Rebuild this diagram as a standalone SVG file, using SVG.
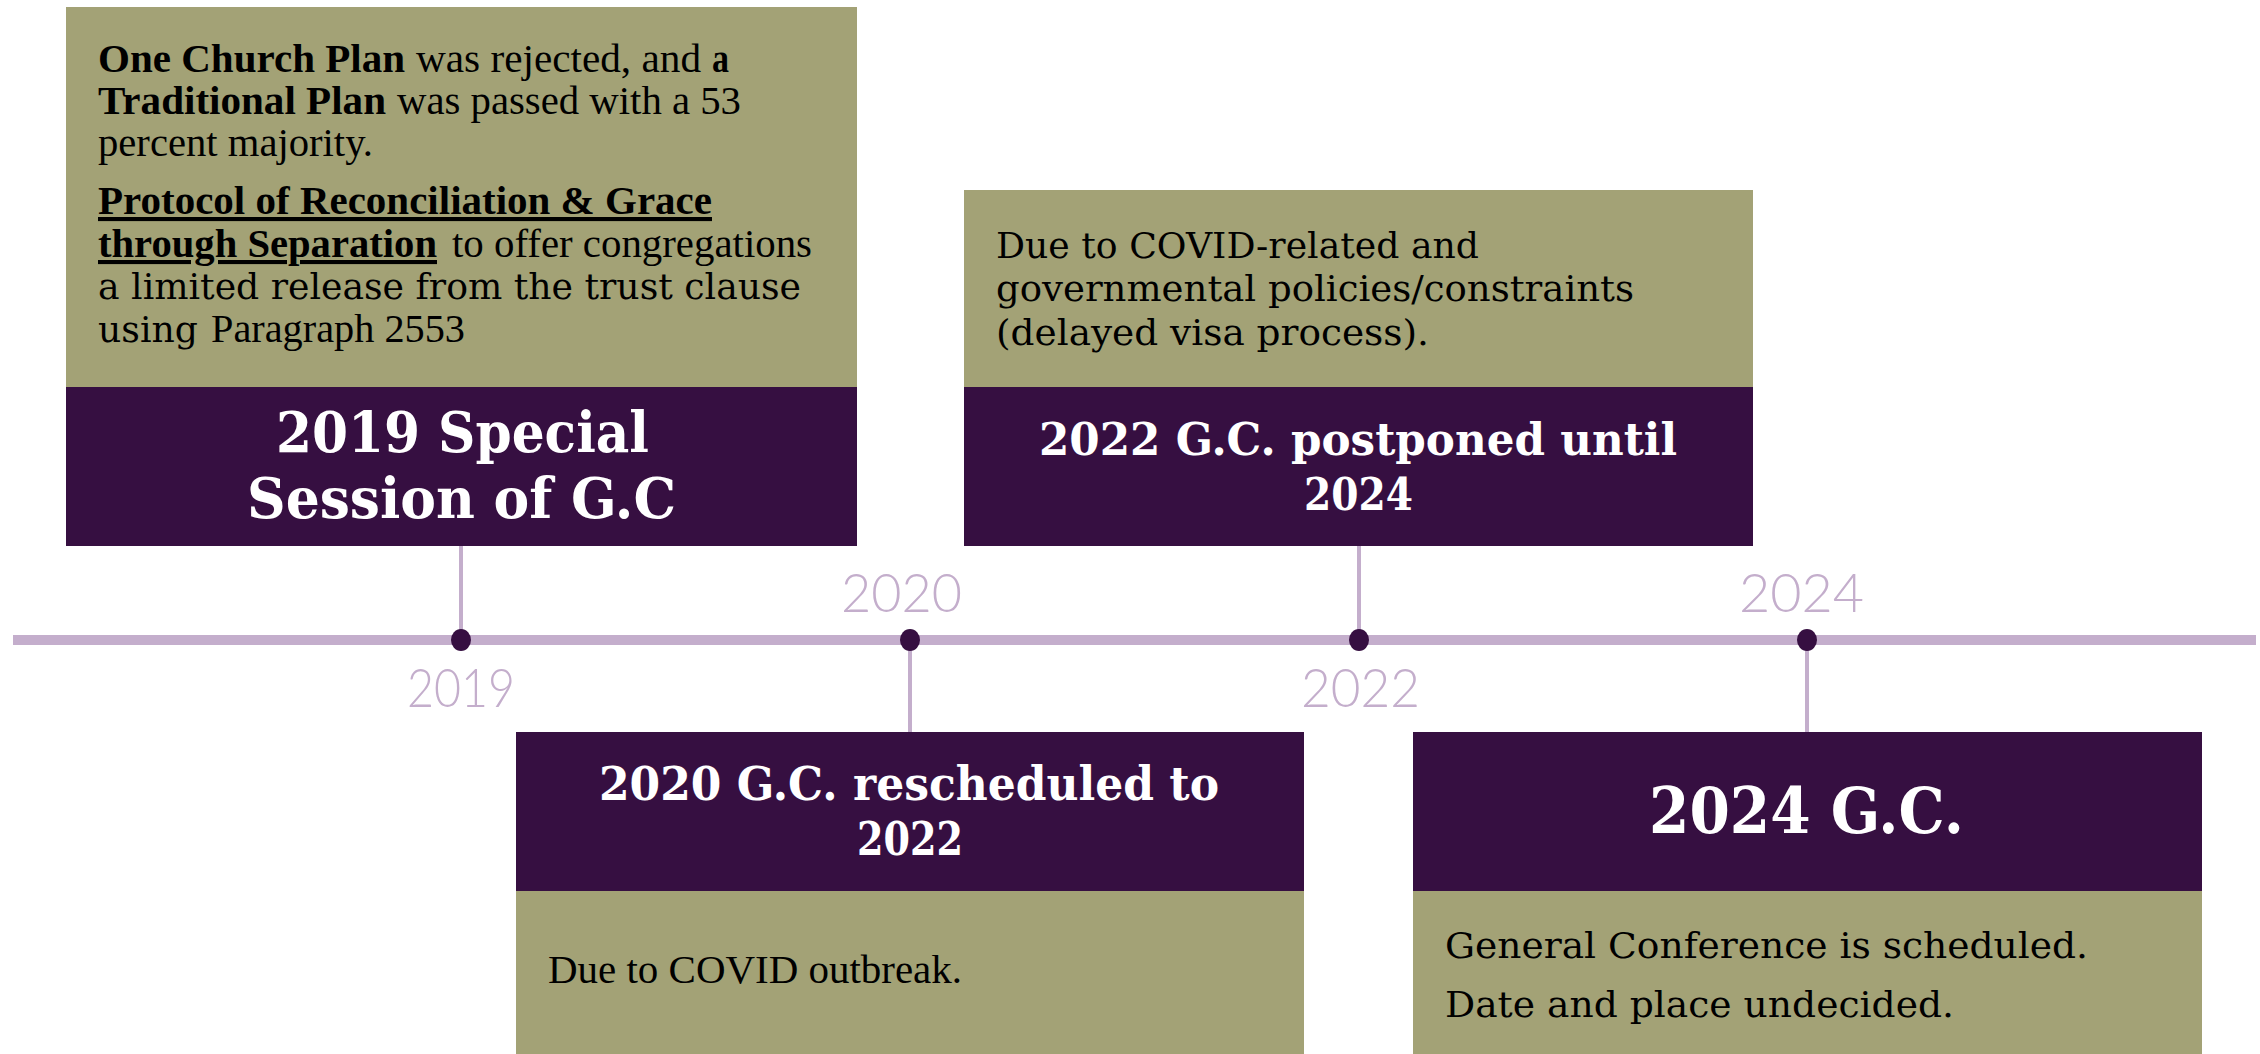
<svg xmlns="http://www.w3.org/2000/svg" width="2260" height="1054" viewBox="0 0 2260 1054">
<style>
.olive{fill:#A3A276}
.purple{fill:#360F41}
.title{font-family:"DejaVu Serif",serif;font-weight:bold;fill:#FFFFFF}
.times{font-family:"Liberation Serif",serif;font-size:41px;fill:#000}
.slab{font-family:"DejaVu Serif",serif;font-size:35px;fill:#000}
.b{font-weight:bold}
.u{text-decoration:underline}
.year{font-family:Lato,"Open Sans",sans-serif;font-weight:300;font-size:54px;fill:#C4AECC}
.stem{stroke:#C4AECC;stroke-width:4;fill:none}
.axis{stroke:#C4AECC;stroke-width:10;fill:none}
.dot{fill:#360F41}
</style>
<rect width="2260" height="1054" fill="#FFFFFF"/>
<g id="connectors">
<line class="axis" x1="13" y1="640" x2="2256" y2="640"/>
<line class="stem" x1="461" y1="546" x2="461" y2="640"/>
<line class="stem" x1="910" y1="640" x2="910" y2="733"/>
<line class="stem" x1="1359" y1="546" x2="1359" y2="640"/>
<line class="stem" x1="1807" y1="640" x2="1807" y2="733"/>
<ellipse class="dot" cx="461" cy="640" rx="10" ry="11"/>
<ellipse class="dot" cx="910" cy="640" rx="10" ry="11"/>
<ellipse class="dot" cx="1359" cy="640" rx="10" ry="11"/>
<ellipse class="dot" cx="1807" cy="640" rx="10" ry="11"/>
</g>
<g id="years">
<text class="year" x="407" y="707" textLength="108" lengthAdjust="spacingAndGlyphs">2019</text>
<text class="year" x="841" y="612" textLength="121" lengthAdjust="spacingAndGlyphs">2020</text>
<text class="year" x="1301" y="707" textLength="119" lengthAdjust="spacingAndGlyphs">2022</text>
<text class="year" x="1739" y="612" textLength="125" lengthAdjust="spacingAndGlyphs">2024</text>
</g>
<g id="node-2019">
<rect class="olive" x="66" y="7" width="791" height="380"/>
<rect class="purple" x="66" y="387" width="791" height="159"/>
<text class="times b" x="98" y="72" textLength="307" lengthAdjust="spacingAndGlyphs">One Church Plan</text>
<text class="times" x="416" y="72" textLength="285" lengthAdjust="spacingAndGlyphs">was rejected, and</text>
<text class="times b" x="712" y="72" textLength="17" lengthAdjust="spacingAndGlyphs">a</text>
<text class="times b" x="98" y="114" textLength="288" lengthAdjust="spacingAndGlyphs">Traditional  Plan</text>
<text class="times" x="397" y="114" textLength="344" lengthAdjust="spacingAndGlyphs">was passed with a 53</text>
<text class="times" x="98" y="156" textLength="275" lengthAdjust="spacingAndGlyphs">percent majority.</text>
<text class="times b u" x="98" y="214" textLength="614" lengthAdjust="spacingAndGlyphs">Protocol of Reconciliation &amp; Grace</text>
<text class="times b u" x="98" y="257" textLength="339" lengthAdjust="spacingAndGlyphs">through Separation</text>
<text class="times" x="452" y="257" textLength="360" lengthAdjust="spacingAndGlyphs">to offer congregations</text>
<text class="slab" x="98" y="299" textLength="703" lengthAdjust="spacingAndGlyphs">a limited release from the trust clause</text>
<text class="slab" x="98" y="342" textLength="100" lengthAdjust="spacingAndGlyphs">using</text>
<text class="times" x="211" y="342" textLength="254" lengthAdjust="spacingAndGlyphs">Paragraph 2553</text>
<text class="title" x="276" y="452" font-size="56" textLength="373" lengthAdjust="spacingAndGlyphs">2019 Special</text>
<text class="title" x="247" y="518" font-size="56" textLength="429" lengthAdjust="spacingAndGlyphs">Session of G.C</text>
</g>
<g id="node-2020">
<rect class="purple" x="516" y="732" width="788" height="159"/>
<rect class="olive" x="516" y="891" width="788" height="163"/>
<text class="title" x="599" y="800" font-size="46" textLength="620" lengthAdjust="spacingAndGlyphs">2020 G.C. rescheduled to</text>
<text class="title" x="857" y="855" font-size="46" textLength="106" lengthAdjust="spacingAndGlyphs">2022</text>
<text class="times" x="548" y="983" textLength="414" lengthAdjust="spacingAndGlyphs">Due to COVID outbreak.</text>
</g>
<g id="node-2022">
<rect class="olive" x="964" y="190" width="789" height="197"/>
<rect class="purple" x="964" y="387" width="789" height="159"/>
<text class="slab" x="996" y="258" textLength="483" lengthAdjust="spacingAndGlyphs">Due to COVID-related and</text>
<text class="slab" x="996" y="301" textLength="638" lengthAdjust="spacingAndGlyphs">governmental policies/constraints</text>
<text class="slab" x="996" y="345" textLength="433" lengthAdjust="spacingAndGlyphs">(delayed visa process).</text>
<text class="title" x="1039" y="455" font-size="45" textLength="638" lengthAdjust="spacingAndGlyphs">2022 G.C. postponed until</text>
<text class="title" x="1304" y="510" font-size="45" textLength="109" lengthAdjust="spacingAndGlyphs">2024</text>
</g>
<g id="node-2024">
<rect class="purple" x="1413" y="732" width="789" height="159"/>
<rect class="olive" x="1413" y="891" width="789" height="163"/>
<text class="title" x="1649" y="833" font-size="64" textLength="315" lengthAdjust="spacingAndGlyphs">2024 G.C.</text>
<text class="slab" x="1445" y="958" textLength="643" lengthAdjust="spacingAndGlyphs">General Conference is scheduled.</text>
<text class="slab" x="1445" y="1017" textLength="509" lengthAdjust="spacingAndGlyphs">Date and place undecided.</text>
</g>
</svg>
